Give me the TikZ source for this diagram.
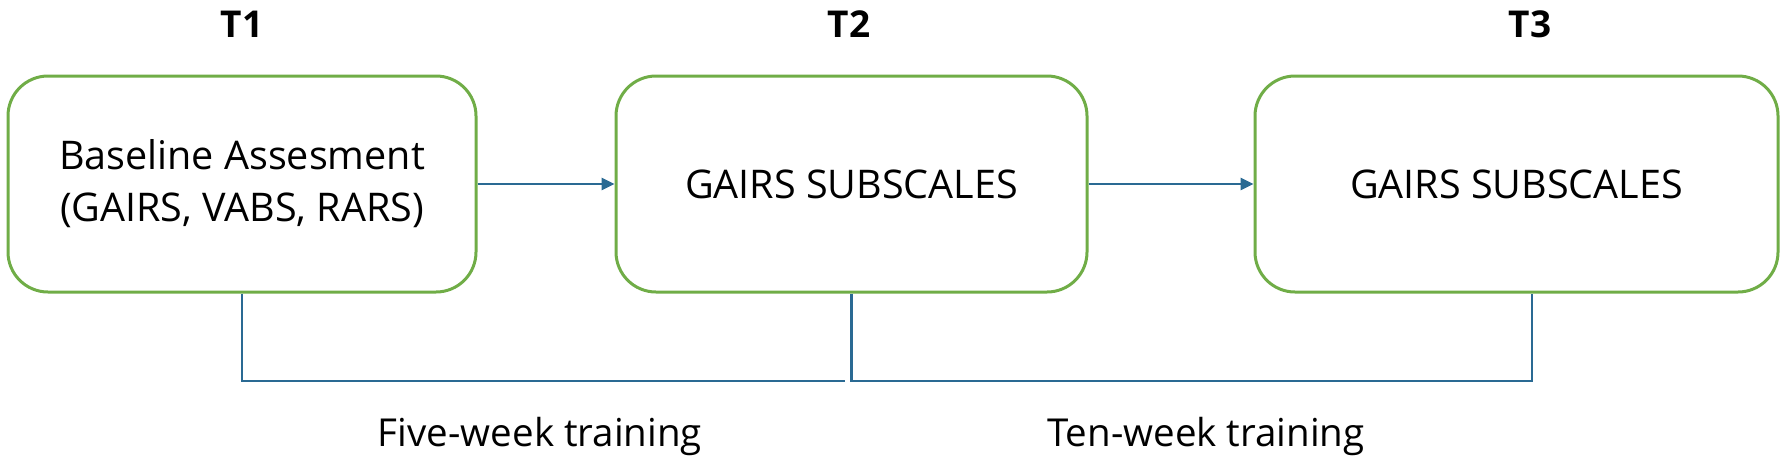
\documentclass[tikz,border=0pt]{standalone}
\usepackage{fontspec}
\setmainfont{Open Sans}
\usetikzlibrary{arrows.meta}
\definecolor{boxgreen}{HTML}{70AD47}
\definecolor{linkblue}{HTML}{2A6A93}
\begin{document}
\begin{tikzpicture}[x=1pt,y=-1pt,
  stagebox/.style={draw=boxgreen, line width=3pt, rounded corners=40pt,
    minimum height=216pt, align=center, inner sep=0pt,
    font=\fontsize{39.5}{52}\selectfont},
  title/.style={font=\bfseries\fontsize{37}{40}\selectfont, inner sep=0pt},
  lbl/.style={font=\fontsize{38.5}{44}\selectfont, inner sep=0pt},
  link/.style={draw=linkblue, line width=2.6pt},
  arr/.style={link, -{Triangle[length=13pt,width=12pt]}}]
\useasboundingbox (0,0) rectangle (1784,461);
\node[title] (t1) at (242,24) {T1};
\node[title] (t2) at (849,24) {T2};
\node[title] (t3) at (1530,24) {T3};
\node[stagebox, minimum width=468pt] (b1) at (242,184) {Baseline Assesment\\(GAIRS, VABS, RARS)};
\node[stagebox, minimum width=471pt] (b2) at (851.5,184) {GAIRS SUBSCALES};
\node[stagebox, minimum width=523pt] (b3) at (1516.5,184) {GAIRS SUBSCALES};
\draw[arr] (b1.east) -- (b2.west);
\draw[arr] (b2.east) -- (b3.west);
\coordinate (k1) at (845,381);
\coordinate (k3) at (1532,381);
\draw[link] (b1.south) |- (k1);
\draw[link] (b2.south) |- (k3) -- (k3 |- b3.south);
\node[lbl] (l1) at (540,436) {Five-week training};
\node[lbl] (l2) at (1206,436) {Ten-week training};
\end{tikzpicture}
\end{document}
